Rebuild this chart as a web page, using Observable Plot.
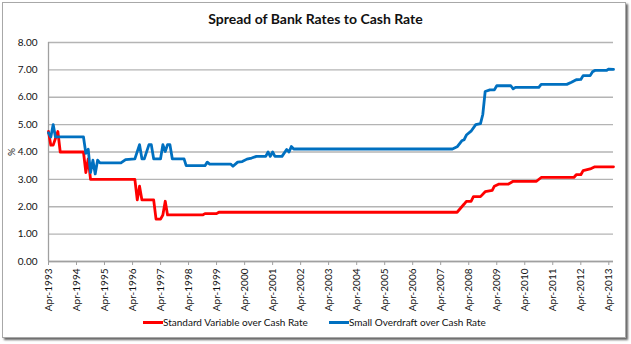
<!DOCTYPE html>
<html><head><meta charset="utf-8">
<script src="https://cdn.jsdelivr.net/npm/d3@7"></script>
<script src="https://cdn.jsdelivr.net/npm/@observablehq/plot@0.6"></script>
<style>
body{margin:0;background:#fff;font-family:Lato,"Open Sans",sans-serif;color:#111;}
#wrap{position:relative;width:631px;height:344px;overflow:hidden;background:#fff;}
#frame{position:absolute;left:2px;top:2px;width:622px;height:334px;border:1px solid #a8a8a8;box-shadow:2px 2px 2px #666;background:#fff;}
#title{position:absolute;top:10px;left:0;width:631px;text-align:center;font-weight:bold;font-size:14px;}
#chart{position:absolute;left:0;top:36px;}
#ylab{position:absolute;left:7px;top:146px;transform:rotate(-90deg);font-size:10px;}
.leg{position:absolute;top:316px;font-size:10px;white-space:nowrap;display:flex;align-items:center;}
.sw{display:inline-block;width:20px;height:3px;margin-right:0px;}
</style></head>
<body><div id="wrap"><div id="frame"></div>
<div id="title">Spread of Bank Rates to Cash Rate</div>
<div id="chart"></div>
<div id="ylab">%</div>
<div class="leg" style="left:143px"><span class="sw" style="background:#ff0000"></span>Standard Variable over Cash Rate</div>
<div class="leg" style="left:329px"><span class="sw" style="background:#0070c0"></span>Small Overdraft over Cash Rate</div>
</div>
<script>
const svDates = ["1993-04","1993-05","1993-06","1993-08","1993-09","1994-07","1994-08","1994-09","1994-10","1996-05","1996-06","1996-07","1996-08","1997-01","1997-02","1997-04","1997-05","1997-06","1997-07","1998-10","1998-11","1999-04","1999-05","2007-11","2008-02","2008-03","2008-05","2008-06","2008-09","2008-11","2009-02","2009-03","2009-05","2009-09","2009-11","2010-09","2010-11","2012-01","2012-02","2012-04","2012-05","2012-08","2012-10","2013-06"];
const svValues = [4.75,4.25,4.25,4.75,4.00,4.00,3.25,3.75,3.00,3.00,2.25,2.75,2.25,2.25,1.55,1.55,1.70,2.20,1.70,1.70,1.75,1.75,1.80,1.80,2.10,2.20,2.20,2.37,2.37,2.55,2.60,2.75,2.83,2.83,2.93,2.93,3.07,3.07,3.17,3.17,3.32,3.38,3.46,3.46];
const odDates = ["1993-04","1993-05","1993-06","1993-07","1994-07","1994-08","1994-09","1994-10","1994-11","1994-12","1995-01","1995-02","1995-11","1996-01","1996-05","1996-07","1996-08","1996-09","1996-11","1996-12","1997-01","1997-04","1997-05","1997-06","1997-07","1997-08","1997-09","1998-02","1998-03","1998-11","1998-12","1999-01","1999-10","1999-11","2000-01","2000-03","2000-05","2000-07","2000-09","2001-01","2001-02","2001-03","2001-04","2001-05","2001-08","2001-10","2001-11","2001-12","2002-01","2007-09","2007-11","2008-01","2008-02","2008-03","2008-05","2008-07","2008-09","2008-10","2008-11","2009-01","2009-03","2009-04","2009-10","2009-11","2009-12","2010-10","2010-11","2011-10","2011-12","2012-02","2012-04","2012-05","2012-08","2012-09","2012-10","2013-03","2013-04","2013-06"];
const odValues = [4.70,4.55,5.00,4.55,4.55,3.95,4.10,3.25,3.70,3.20,3.70,3.60,3.60,3.72,3.75,4.27,3.75,3.75,4.27,4.27,3.75,3.75,4.27,4.02,4.27,4.27,3.75,3.75,3.50,3.50,3.63,3.56,3.56,3.48,3.63,3.65,3.74,3.78,3.84,3.84,4.00,3.84,4.00,3.84,3.84,4.09,4.00,4.20,4.11,4.11,4.19,4.41,4.45,4.62,4.76,5.00,5.04,5.37,6.21,6.27,6.27,6.42,6.42,6.31,6.36,6.36,6.47,6.47,6.55,6.64,6.65,6.79,6.79,6.93,6.98,6.98,7.03,7.02];
const tickYears = [1993,1994,1995,1996,1997,1998,1999,2000,2001,2002,2003,2004,2005,2006,2007,2008,2009,2010,2011,2012,2013];
const yTicks = [0,1,2,3,4,5,6,7,8];

const parse = d3.utcParse("%Y-%m");
const sv = svDates.map((d,i)=>({date:parse(d), value:svValues[i]}));
const od = odDates.map((d,i)=>({date:parse(d), value:odValues[i]}));
const xTicks = tickYears.map(y=>new Date(Date.UTC(y,3,1)));
const x0 = parse("1993-04"), x1 = parse("2013-06");

const chart = Plot.plot({
  width:631, height:280, marginLeft:48, marginRight:18, marginTop:6, marginBottom:55,
  style:{fontFamily:'Lato, "Open Sans", sans-serif', fontSize:"10px", color:"#111", background:"transparent", overflow:"visible"},
  x:{type:"utc", domain:[x0,x1]},
  y:{domain:[0,8]},
  marks:[
    Plot.gridY(yTicks, {stroke:"#b4b4b4", strokeOpacity:1, strokeWidth:1.3}),
    Plot.ruleX([x0], {stroke:"#a0a0a0", strokeWidth:1.3}),
    Plot.ruleY([0], {stroke:"#a0a0a0", strokeWidth:1.3}),
    Plot.axisY(yTicks, {tickFormat:d3.format(".2f"), tickSize:0, tickPadding:11, label:null, fill:"#111"}),
    Plot.axisX(xTicks, {tickFormat:d3.utcFormat("%b-%Y"), tickRotate:-90, tickSize:4, tickPadding:3, stroke:"#a0a0a0", fill:"#111", label:null}),
    Plot.line(sv, {x:"date", y:"value", stroke:"#ff0000", strokeWidth:2.8, curve:"linear"}),
    Plot.line(od, {x:"date", y:"value", stroke:"#0070c0", strokeWidth:2.8, curve:"linear"})
  ]
});
document.getElementById("chart").appendChild(chart);
</script>
</body></html>
